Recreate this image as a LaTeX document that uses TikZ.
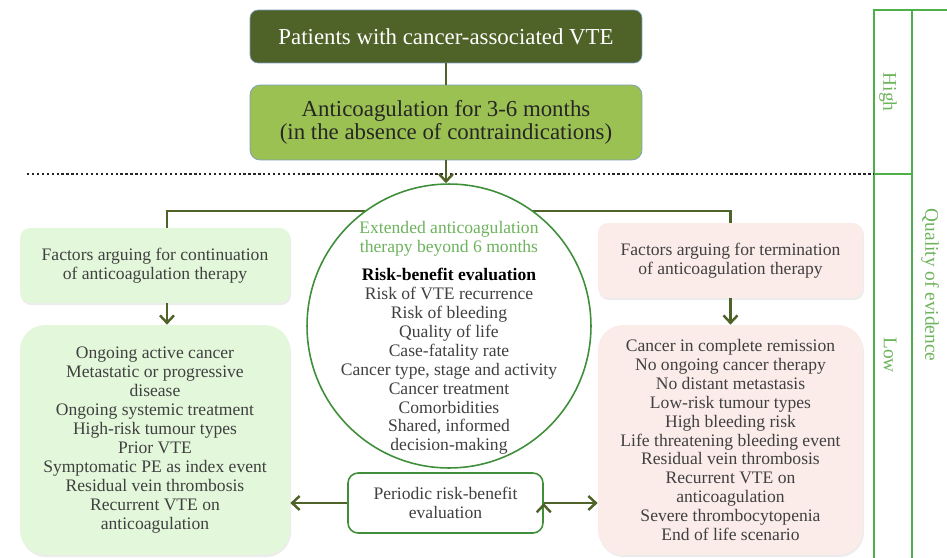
\documentclass[tikz,border=0pt]{standalone}
\usepackage{fontspec}
\setmainfont{Liberation Serif}
\usepackage{tikz}
\usetikzlibrary{arrows.meta}
\usetikzlibrary{shapes}
\usetikzlibrary{shadows}
\usetikzlibrary{positioning}

\definecolor{darkolive}{HTML}{4F6228}
\definecolor{limegreen}{HTML}{9BC152}
\definecolor{boxedge}{HTML}{7C9CBF}
\definecolor{paleg}{HTML}{E3F8DB}
\definecolor{palepink}{HTML}{FBECEA}
\definecolor{ringgreen}{HTML}{3F8F3A}
\definecolor{headgreen}{HTML}{6DB35C}
\definecolor{tablegreen}{HTML}{4DAF4A}
\definecolor{listgray}{HTML}{404040}

\tikzstyle{start}=[
   rectangle,
   rounded corners=1.6mm,
   draw=boxedge,
   fill=darkolive,
   text=white,
   minimum width=7.84cm,
   minimum height=1.06cm,
   font=\fontsize{13}{15}\selectfont
]
\tikzstyle{therapy}=[
   rectangle,
   rounded corners=2mm,
   draw=boxedge,
   fill=limegreen,
   text=black!85,
   align=center,
   minimum width=7.84cm,
   minimum height=1.5cm,
   font=\fontsize{13}{13.4}\selectfont
]
\tikzstyle{pro}=[
   rectangle,
   rounded corners=2mm,
   fill=paleg,
   text=listgray,
   align=center,
   minimum width=5.4cm,
   minimum height=1.5cm,
   drop shadow={opacity=0.15, shadow xshift=0.6pt, shadow yshift=-1.2pt}
]
\tikzstyle{contra}=[
   rectangle,
   rounded corners=2mm,
   fill=palepink,
   text=listgray,
   align=center,
   minimum width=5.3cm,
   minimum height=1.5cm,
   drop shadow={opacity=0.15, shadow xshift=0.6pt, shadow yshift=-1.2pt}
]
\tikzstyle{evalcircle}=[
   circle,
   draw=ringgreen,
   line width=0.9pt,
   fill=white,
   inner sep=0pt,
   minimum size=5.68cm
]
\tikzstyle{periodic}=[
   rectangle,
   rounded corners=2mm,
   draw=ringgreen,
   line width=0.9pt,
   fill=white,
   text=listgray,
   align=center,
   minimum width=3.9cm,
   minimum height=1.2cm
]
\tikzstyle{link}=[
   line width=1.4pt,
   draw=darkolive
]
\tikzstyle{sidelabel}=[
   rotate=-90,
   text=headgreen,
   font=\fontsize{11}{13}\selectfont
]
\newcommand{\listfont}{\fontsize{10}{10.8}\selectfont}

\begin{document}
\begin{tikzpicture}[
      >={Straight Barb[length=1.5mm,width=2.8mm]},
      x=0.02cm, y=-0.02cm,
      font=\listfont
   ]
   \useasboundingbox (0,0) rectangle (947,558);

   % quality of evidence column
   \draw[tablegreen, line width=1pt] (947,10) -- (874,10) -- (874,558)
      (912,10) -- (912,558)
      (874,174) -- (912,174);
   \node (high) at (888,92) [sidelabel] {High};
   \node (low) at (890,355) [sidelabel] {Low};
   \node (quality) at (930,285) [sidelabel] {Quality of evidence};

   \draw[black!85, line width=1.3pt, dash pattern=on 1.3pt off 1.5pt] (27,174) -- (874,174);

   \node (0) at (446,36.5) [start] {Patients with cancer-associated VTE};
   \node (1) at (446,122.5) [therapy] {
      Anticoagulation for 3-6 months
      \\(in the absence of contraindications)
   };

   \node (3) at (155,265.5) [pro] {
      Factors arguing for continuation
      \\of anticoagulation therapy
   };
   \node (4) at (730.5,260.5) [contra] {
      Factors arguing for termination
      \\of anticoagulation therapy
   };

   \node (5) at (155,440) [pro, rounded corners=5mm, minimum height=4.6cm] {
      Ongoing active cancer
      \\Metastatic or progressive
      \\disease
      \\Ongoing systemic treatment
      \\High-risk tumour types
      \\Prior VTE
      \\Symptomatic PE as index event
      \\Residual vein thrombosis
      \\Recurrent VTE on
      \\anticoagulation
   };
   \node (6) at (730.5,440) [contra, rounded corners=5mm, minimum height=4.6cm] {
      Cancer in complete remission
      \\No ongoing cancer therapy
      \\No distant metastasis
      \\Low-risk tumour types
      \\High bleeding risk
      \\Life threatening bleeding event
      \\Residual vein thrombosis
      \\Recurrent VTE on
      \\anticoagulation
      \\Severe thrombocytopenia
      \\End of life scenario
   };

   \coordinate (split) at (446,211);
   \draw[link] ([xshift=0.24cm]3.north) |- (split) -| (4.north);

   \node (2) at (449,326) [evalcircle] {};
   \node (2t) at (449,338) [align=center, text=listgray] {
      \textcolor{headgreen}{Extended anticoagulation}
      \\\textcolor{headgreen}{therapy beyond 6 months}
      \\[5pt]\textcolor{black}{\textbf{Risk-benefit evaluation}}
      \\Risk of VTE recurrence
      \\Risk of bleeding
      \\Quality of life
      \\Case-fatality rate
      \\Cancer type, stage and activity
      \\Cancer treatment
      \\Comorbidities
      \\Shared, informed
      \\decision-making
   };

   \node (7) at (445.5,503) [periodic] {
      Periodic risk-benefit
      \\evaluation
   };

   \path[link]
      (0) edge (1);

   \path[->, link]
      (1.south) edge (1.south |- 2.north)
      ([xshift=0.24cm]3.south) edge ([xshift=0.24cm]5.north)
      (4) edge (6)
      (7.west) edge (7.west -| 5.east)
      (7.east) edge (7.east -| 6.west)
      ;

\end{tikzpicture}
\end{document}
